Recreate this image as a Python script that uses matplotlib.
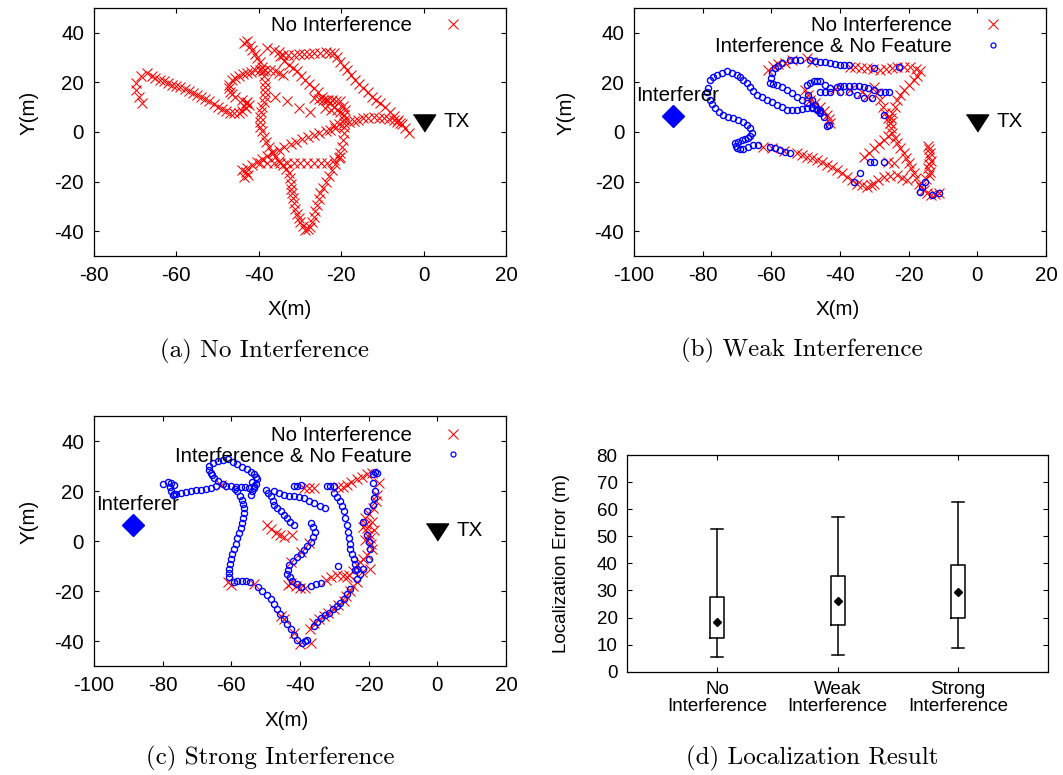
import numpy as np
import matplotlib
matplotlib.use('Agg')
from matplotlib import pyplot as plt
from matplotlib.lines import Line2D

plt.rcParams['font.family'] = ['Liberation Sans', 'DejaVu Sans']
plt.rcParams['axes.unicode_minus'] = False

# ---- data ----
# (a) no interference: estimated positions (x, y) in metres
a_no_intf = [
    (-68.3, 11.6), (-69.1, 14.3), (-69.9, 17.0), (-69.9, 19.7), (-68.7, 22.4), (-67.1, 23.7), (-66.0, 22.6),
    (-65.1, 21.7), (-64.0, 21.0), (-63.1, 20.4), (-62.0, 19.6), (-61.0, 19.0), (-60.0, 18.6), (-59.0, 18.1),
    (-58.0, 17.4), (-57.0, 16.7), (-56.0, 15.9), (-55.0, 15.0), (-54.0, 14.2), (-53.0, 13.3), (-52.0, 12.3),
    (-50.9, 11.3), (-49.9, 10.2), (-48.9, 9.2), (-47.9, 8.4), (-46.9, 7.8), (-45.9, 7.6), (-44.9, 7.8),
    (-44.0, 8.6), (-43.2, 9.6), (-42.4, 10.9), (-43.0, 11.5), (-43.6, 10.6), (-42.8, 12.0),
    (-44.1, 12.9), (-45.7, 14.3), (-46.4, 15.3), (-47.0, 16.3), (-47.3, 17.7), (-47.3, 19.0), (-46.5, 21.0),
    (-45.7, 21.8), (-44.9, 22.6), (-43.8, 23.2), (-42.8, 23.7), (-41.8, 24.3), (-40.8, 24.8), (-39.6, 25.0),
    (-38.4, 25.1), (-37.2, 24.8), (-36.0, 24.4), (-35.0, 23.7), (-34.0, 23.0),
    (-43.7, 35.8), (-42.8, 36.5), (-42.2, 34.8), (-41.6, 33.2), (-41.0, 31.5), (-40.4, 29.8), (-39.8, 28.1),
    (-39.2, 26.4), (-39.0, 24.4), (-38.8, 22.4), (-38.6, 20.3), (-38.4, 18.3), (-38.4, 16.3), (-38.4, 14.3),
    (-38.8, 12.2), (-39.2, 10.2), (-39.4, 8.2), (-39.6, 6.2), (-39.6, 4.2), (-39.6, 2.2), (-39.2, 0.2),
    (-38.8, -1.9), (-38.2, -3.9), (-37.6, -5.9), (-36.8, -8.0), (-36.0, -10.0), (-35.0, -11.7), (-34.0, -13.3),
    (-33.3, -15.0), (-32.7, -16.7), (-32.5, -18.7), (-32.3, -20.8), (-32.1, -22.8), (-31.9, -24.8),
    (-31.7, -26.8), (-31.5, -28.8), (-31.1, -30.9), (-30.7, -32.9), (-30.3, -34.6), (-29.9, -36.3),
    (-29.3, -38.0), (-28.7, -39.6), (-28.1, -39.0), (-27.5, -38.3), (-27.1, -36.2), (-26.7, -34.2),
    (-26.3, -31.8), (-25.9, -29.5), (-25.5, -27.1), (-25.1, -24.8), (-24.5, -22.4), (-23.8, -20.1),
    (-23.0, -17.7), (-22.2, -15.4), (-21.4, -13.0), (-20.6, -10.6), (-20.2, -8.3), (-19.8, -5.9),
    (-19.6, -3.2), (-19.4, -0.5), (-19.4, 2.2), (-19.4, 4.9), (-19.2, 6.9), (-19.0, 8.9), (-19.6, 10.6),
    (-20.2, 12.3), (-21.2, 12.6), (-22.2, 12.9), (-23.3, 12.9), (-24.3, 12.9), (-25.5, 13.2), (-26.7, 13.6),
    (-38.0, 33.8), (-36.4, 33.2), (-35.2, 32.2), (-34.0, 31.1), (-32.8, 31.1), (-31.5, 31.1), (-30.3, 31.3),
    (-29.1, 31.5), (-27.9, 31.6), (-26.7, 31.8), (-25.2, 32.0), (-23.8, 32.1), (-22.8, 32.0), (-21.8, 31.8),
    (-21.0, 30.1), (-20.2, 28.4), (-19.4, 26.7), (-18.6, 25.1), (-17.6, 23.0), (-16.6, 21.0), (-15.6, 19.3),
    (-14.6, 17.7), (-13.6, 16.0), (-12.5, 14.3), (-11.5, 13.0), (-10.5, 11.6), (-9.3, 9.9), (-8.1, 8.2),
    (-7.1, 6.5), (-6.1, 4.9), (-5.2, 3.2), (-4.4, 1.5), (-3.6, -0.5),
    (-34.8, 30.5), (-33.8, 28.8), (-32.7, 27.1), (-31.7, 25.7), (-30.7, 24.4), (-29.7, 22.7), (-28.7, 21.0),
    (-27.7, 19.3), (-26.7, 17.7), (-25.7, 16.0), (-24.7, 14.3), (-23.6, 13.0), (-22.6, 11.6), (-21.8, 10.2),
    (-21.0, 8.9), (-20.2, 7.9), (-19.4, 6.9),
    (-21.8, 2.8), (-20.6, 3.2), (-19.4, 3.5), (-18.2, 4.0), (-17.0, 4.6), (-15.8, 5.0), (-14.6, 5.5),
    (-13.4, 5.7), (-12.1, 5.9), (-10.9, 5.7), (-9.7, 5.5), (-8.5, 5.2), (-7.3, 4.9), (-6.5, 4.2), (-5.7, 3.5),
    (-43.2, -16.0), (-43.7, -18.1), (-42.5, -17.5), (-44.0, -15.5), (-42.8, -14.7), (-41.6, -13.3),
    (-40.4, -12.0), (-39.2, -10.8), (-38.0, -9.7), (-36.6, -8.5), (-35.2, -7.3), (-33.8, -6.1), (-32.3, -4.9),
    (-30.9, -3.9), (-29.5, -3.0), (-28.1, -2.1), (-26.7, -1.2), (-25.3, -0.3), (-23.8, 0.5), (-22.6, 1.0),
    (-21.4, 1.5),
    (-39.6, -12.7), (-38.0, -12.7), (-36.4, -12.7), (-34.8, -12.7), (-33.1, -12.7), (-31.5, -12.7),
    (-29.9, -12.7), (-28.3, -12.7), (-26.7, -12.7), (-25.0, -12.6), (-23.4, -12.4), (-21.8, -11.2), (-20.2, -10.0),
    (-36.0, 14.3), (-33.1, 12.3), (-30.3, 9.6), (-27.5, 8.2), (-24.0, 9.5), (-22.5, 9.0),
]

# (b) weak interference
b_no_intf = [
    (-60.9, 25.1), (-59.5, 26.5), (-58.0, 27.5), (-56.0, 27.8), (-54.0, 29.1), (-49.7, 29.8), (-48.2, 28.4),
    (-37.0, 26.4), (-35.5, 26.2), (-34.0, 26.0), (-32.1, 25.7), (-30.5, 25.4), (-28.2, 25.1), (-26.5, 25.5),
    (-24.8, 26.0), (-23.4, 26.4), (-21.5, 26.4), (-19.5, 26.4), (-18.0, 25.5), (-16.6, 24.4), (-17.5, 22.7),
    (-18.5, 21.0), (-20.0, 19.0), (-21.4, 17.0), (-22.4, 15.0), (-23.4, 12.9), (-24.1, 10.2), (-24.8, 7.5),
    (-25.1, 5.5), (-25.3, 3.5), (-25.0, 1.5), (-24.8, -0.5), (-24.1, -2.5), (-23.4, -4.6), (-22.4, -6.6),
    (-21.4, -8.6), (-20.7, -10.6), (-20.0, -12.7), (-19.2, -14.7), (-18.5, -16.7), (-17.8, -18.7),
    (-17.0, -20.8), (-16.3, -22.1), (-15.6, -23.5), (-14.6, -24.5), (-13.6, -25.5), (-12.4, -25.2), (-11.2, -24.8),
    (-30.2, 18.3), (-29.2, 15.6), (-28.2, 12.9), (-27.5, 10.2), (-26.8, 7.5), (-26.0, 5.5), (-25.5, 3.5),
    (-50.1, 17.0), (-49.4, 15.0), (-48.6, 12.9), (-47.2, 11.5), (-45.8, 10.2), (-44.8, 8.5), (-43.8, 6.9),
    (-43.3, 5.2), (-42.8, 3.5), (-41.5, 17.5), (-37.0, 17.0), (-33.5, 16.0), (-32.0, 14.5),
    (-62.3, -5.9), (-59.9, -6.6), (-56.3, -7.6), (-52.6, -8.6), (-51.1, -9.3), (-49.7, -10.0), (-48.2, -10.6),
    (-46.7, -11.3), (-45.2, -12.3), (-43.8, -13.3), (-42.3, -14.3), (-40.9, -15.4), (-39.5, -16.7),
    (-38.0, -18.1), (-36.5, -19.4), (-35.1, -20.8), (-33.6, -21.5), (-32.1, -22.1), (-31.1, -21.5),
    (-30.2, -20.8), (-28.8, -19.4), (-27.3, -18.1), (-25.4, -17.6), (-23.4, -17.4), (-21.9, -18.4), (-20.4, -19.4),
    (-33.1, -10.0), (-31.5, -8.4), (-30.0, -6.5), (-28.5, -4.8), (-27.3, -3.2), (-26.0, -1.8), (-24.3, -12.7),
    (-26.0, -12.3),
    (-14.5, -5.5), (-14.0, -7.0), (-13.8, -8.5), (-14.2, -10.0), (-13.6, -11.5), (-14.0, -13.0), (-14.4, -14.5),
    (-13.8, -16.0), (-14.2, -17.5), (-15.0, -19.0),
]
b_intf_nofeat = [
    (-78.4, 17.7), (-78.6, 16.0), (-77.9, 12.9), (-77.2, 11.2), (-76.4, 9.6), (-75.2, 8.2), (-74.0, 6.9),
    (-72.5, 6.2), (-71.1, 5.5), (-69.6, 4.9), (-68.2, 4.2), (-67.2, 2.8), (-66.2, 1.5), (-65.7, -0.5),
    (-66.2, -1.6), (-66.7, -2.6), (-67.7, -2.9), (-68.6, -3.2), (-69.6, -3.9), (-70.6, -4.6), (-70.4, -5.6),
    (-70.1, -6.6), (-69.2, -6.8), (-68.2, -7.0), (-66.7, -6.2), (-65.2, -5.3), (-64.0, -5.3), (-60.4, -5.9),
    (-58.9, -6.6), (-57.4, -7.3), (-55.9, -8.0), (-54.5, -8.6),
    (-77.9, 21.0), (-76.9, 22.0), (-75.9, 23.0), (-74.4, 23.7), (-73.0, 24.4), (-71.5, 23.7), (-70.1, 23.0),
    (-69.1, 22.0), (-68.2, 21.0), (-67.2, 19.7), (-66.2, 18.3), (-65.2, 16.7), (-64.3, 15.0), (-62.8, 14.0),
    (-61.3, 12.9), (-59.9, 11.9), (-58.4, 10.9), (-57.0, 9.9), (-55.5, 8.9), (-54.0, 8.9), (-52.6, 8.9),
    (-51.1, 9.2), (-49.7, 9.6), (-48.2, 9.6), (-46.7, 9.2), (-45.8, 8.9), (-44.8, 6.2), (-43.3, 2.8),
    (-60.4, 19.7), (-59.4, 19.4), (-58.4, 19.0), (-57.0, 18.0), (-55.5, 17.0), (-54.0, 15.7), (-52.6, 14.3),
    (-51.1, 13.0), (-49.7, 11.6), (-48.2, 10.2), (-46.7, 8.9), (-45.8, 8.0),
    (-60.2, 21.7), (-59.9, 23.7), (-58.9, 25.7), (-58.0, 26.8), (-57.0, 27.8), (-54.5, 29.1), (-53.0, 29.1),
    (-51.6, 29.1), (-48.7, 29.1), (-47.2, 28.8), (-45.8, 28.4), (-44.3, 28.1), (-42.8, 27.8), (-41.4, 27.4),
    (-39.9, 27.1), (-38.7, 27.1), (-37.5, 27.1),
    (-49.7, 19.0), (-48.7, 19.9), (-47.7, 20.4), (-46.7, 20.4), (-45.8, 20.4), (-44.3, 19.0), (-42.8, 17.7),
    (-40.9, 18.3), (-39.9, 18.5), (-38.9, 18.6), (-37.5, 18.6), (-36.0, 18.6), (-34.5, 18.4), (-33.1, 18.1),
    (-31.7, 17.6), (-30.2, 17.0), (-45.8, 16.3), (-44.3, 16.3), (-42.8, 16.3), (-39.9, 16.3), (-37.5, 16.3),
    (-28.2, 16.3), (-27.0, 16.3), (-25.8, 16.3), (-35.0, 15.0), (-33.1, 13.6), (-30.7, 13.6),
    (-27.3, 6.9), (-22.9, 26.4), (-30.2, 25.7), (-49.2, 15.0), (-48.2, 12.9), (-47.2, 10.9), (-45.8, 7.5),
    (-43.8, 2.4), (-31.2, -12.0), (-30.2, -12.0), (-27.3, -12.0), (-16.6, -24.1), (-16.1, -22.1),
    (-15.1, -20.1), (-13.1, -25.5), (-11.2, -24.5), (-36.0, -20.1), (-34.1, -16.7),
]

# (c) strong interference
c_no_intf = [
    (-63.1, 22.4), (-61.1, -16.4), (-60.0, -17.5), (-53.4, -17.1), (-44.7, -31.3), (-45.6, -30.0),
    (-41.8, -36.7), (-36.9, -40.7), (-40.0, -41.0), (-49.5, 6.5), (-48.5, 5.0), (-47.1, 3.1), (-45.8, 2.4),
    (-44.7, 1.8), (-42.3, 2.4), (-42.7, -8.4), (-39.8, -4.3), (-37.4, -0.9), (-41.3, -18.0), (-40.0, -18.8),
    (-38.5, -18.8), (-38.9, 21.3), (-37.5, 21.3), (-36.0, 21.3), (-29.0, 21.5), (-27.5, 21.8), (-26.3, 22.6),
    (-25.0, 23.5), (-23.4, 24.7), (-22.0, 25.7), (-20.5, 26.7), (-19.1, 27.4), (-17.1, 23.3), (-17.6, 18.6),
    (-18.0, 16.0), (-18.6, 13.2), (-20.0, 11.0), (-21.0, 9.2), (-20.8, 7.0), (-20.5, 5.1), (-20.0, 3.0),
    (-19.5, 1.1), (-19.3, -1.0), (-19.1, -3.0), (-20.5, -5.7), (-21.5, -7.0), (-22.4, -8.4), (-23.5, -9.5),
    (-19.5, -11.1), (-24.5, -12.0), (-25.8, -13.5), (-26.3, -14.4), (-27.5, -13.8), (-29.2, -13.7),
    (-31.0, -14.5), (-32.5, -15.5), (-22.0, -12.5), (-23.4, -16.4), (-24.5, -18.0), (-25.5, -20.0),
    (-26.5, -22.0), (-27.3, -23.9), (-28.8, -25.5), (-30.2, -27.2), (-31.7, -28.6), (-33.1, -29.9),
    (-34.5, -31.2), (-36.0, -32.6), (-37.0, -35.0), (-42.5, -16.8), (-43.5, -17.5),
    (-21.5, 5.5), (-19.0, 7.5), (-21.0, 0.5), (-18.5, 4.5),
]
c_intf_nofeat = [
    (-80.0, 22.9), (-78.5, 23.7), (-77.5, 23.3), (-76.6, 22.6), (-77.8, 21.5), (-77.5, 19.9), (-76.8, 19.0),
    (-77.1, 18.6), (-76.0, 19.0), (-74.7, 19.3), (-73.2, 19.7), (-71.8, 20.2), (-70.3, 20.4), (-68.9, 20.6),
    (-67.5, 21.0), (-66.0, 21.3), (-64.5, 21.9), (-61.6, 22.2), (-60.2, 22.0), (-58.7, 21.8),
    (-57.3, 21.6), (-56.0, 21.5), (-54.8, 21.3),
    (-66.4, 30.1), (-65.2, 31.2), (-64.0, 32.1), (-62.5, 32.5), (-61.1, 32.7), (-59.6, 31.7), (-58.2, 30.7),
    (-56.8, 29.7), (-55.3, 28.7), (-54.3, 27.7), (-53.4, 26.7), (-52.9, 25.7), (-52.4, 24.7), (-52.9, 23.0),
    (-53.4, 21.3), (-53.9, 20.0), (-54.4, 18.6), (-53.5, 22.0), (-54.0, 23.5),
    (-66.4, 28.6), (-66.0, 27.4), (-65.5, 26.3), (-65.0, 25.3), (-64.0, 24.0), (-62.5, 23.0),
    (-59.0, 21.0), (-58.2, 19.9), (-57.5, 18.2), (-56.8, 16.6), (-56.5, 14.9), (-56.3, 13.2), (-56.4, 11.2),
    (-56.5, 9.2), (-56.9, 7.1), (-57.3, 5.1), (-57.8, 3.1), (-58.2, 1.1), (-58.7, -1.0), (-59.2, -3.0),
    (-59.7, -5.0), (-60.2, -7.0), (-60.5, -9.0), (-60.7, -11.1), (-60.7, -12.8), (-60.7, -14.4),
    (-59.2, -16.3), (-58.2, -15.8), (-57.0, -15.8), (-55.8, -15.8), (-54.6, -16.4), (-52.2, -18.4),
    (-51.0, -19.8), (-49.7, -21.5), (-48.5, -23.2), (-47.6, -25.2), (-46.7, -27.2), (-45.7, -29.3),
    (-44.7, -31.3), (-43.7, -33.3), (-42.7, -35.3), (-41.8, -37.4), (-40.8, -39.4), (-39.4, -40.7),
    (-38.6, -40.0), (-37.9, -39.4), (-36.0, -34.0), (-35.0, -32.3), (-34.0, -30.6), (-32.8, -29.6),
    (-31.6, -28.6), (-30.4, -27.2), (-29.2, -25.9), (-28.2, -24.6), (-27.3, -23.2), (-26.3, -21.1),
    (-25.3, -19.1), (-23.4, -15.1), (-22.4, -13.1), (-21.5, -11.1), (-20.0, -7.0), (-19.5, -3.0),
    (-20.0, -0.3), (-20.5, 2.4), (-21.5, 7.8), (-20.5, 11.9), (-18.6, 14.6), (-18.4, 17.2), (-18.1, 19.9),
    (-18.6, 23.3), (-18.6, 26.7), (-17.6, 27.4), (-18.2, 27.5),
    (-50.0, 20.6), (-49.2, 19.3), (-48.5, 17.9), (-48.0, 16.2), (-47.6, 14.6), (-46.6, 13.2), (-45.6, 11.9),
    (-44.6, 10.5), (-43.7, 9.2), (-42.8, 7.8), (-41.8, 6.5),
    (-47.6, 19.9), (-46.2, 19.2), (-44.7, 18.6), (-43.2, 18.2), (-41.8, 17.9), (-40.3, 17.6), (-38.9, 17.3),
    (-37.5, 16.2), (-36.0, 15.2), (-34.3, 14.2), (-32.6, 13.2),
    (-36.9, 7.1), (-36.2, 5.5), (-35.5, 3.8), (-36.2, 1.8), (-36.9, -0.3), (-37.9, -2.0), (-38.9, -3.6),
    (-39.8, -5.0), (-40.8, -6.3), (-42.0, -8.0), (-43.2, -9.7), (-43.5, -11.4), (-43.7, -13.1), (-43.0, -14.5),
    (-42.3, -15.8), (-41.0, -17.2), (-39.8, -18.5), (-36.9, -17.8), (-35.4, -17.2), (-34.0, -16.7),
    (-41.8, 22.0), (-40.8, 22.2), (-39.8, 22.4), (-32.1, 22.0), (-31.2, 22.0), (-30.2, 22.0), (-30.2, 19.3),
    (-29.2, 17.6), (-28.2, 15.9), (-27.7, 13.9), (-27.3, 11.9), (-26.8, 9.2), (-26.3, 6.5), (-26.0, 3.8),
    (-25.8, 1.1), (-25.5, -1.0), (-25.3, -3.0), (-24.8, -5.0), (-24.4, -7.0), (-23.9, -9.0), (-23.4, -11.1),
    (-29.0, -10.0), (-24.0, -11.5),
]

tx_pos = (0.0, 3.5)
interferer_pos = (-88.5, 6.5)

# (d) localization error box plot
err_labels = ['No\nInterference', 'Weak\nInterference', 'Strong\nInterference']
err_whislo = [5.5, 6.3, 8.6]
err_q1 = [12.3, 17.3, 20.0]
err_mid = [18.3, 26.1, 29.3]
err_q3 = [27.6, 35.2, 39.5]
err_whishi = [52.6, 57.2, 62.6]

captions = ['(a) No Interference', '(b) Weak Interference',
            '(c) Strong Interference', '(d) Localization Result']

FS = 14.8
RED = '#ff0000'
BLUE = '#0000ff'
TRI = [(-1.0, 0.77), (1.0, 0.77), (0.0, -0.77)]


def style_axes(ax, fs):
    ax.tick_params(direction='in', top=True, right=True, length=3.3, width=0.8,
                   labelsize=fs, pad=7)
    for s in ax.spines.values():
        s.set_linewidth(0.9)


def map_axes(ax, xlim, xticks):
    ax.set_xlim(*xlim)
    ax.set_ylim(-50, 50)
    ax.set_xticks(xticks)
    ax.set_yticks([-40, -20, 0, 20, 40])
    style_axes(ax, FS)
    ax.set_xlabel('X(m)', fontsize=FS)
    ax.set_ylabel('Y(m)', fontsize=FS)
    ax.yaxis.set_label_coords(-0.135, 0.577)


def plot_pts(ax, pts, kind):
    p = np.array(pts)
    if kind == 'x':
        ax.plot(p[:, 0], p[:, 1], ls='none', marker='x', color=RED, ms=7.4, mew=0.75)
    else:
        ax.plot(p[:, 0], p[:, 1], ls='none', marker='o', mfc='none', mec=BLUE, ms=4.4, mew=1.0)


def add_tx(ax):
    ax.plot(*tx_pos, ls='none', marker=TRI, color='black', ms=16)
    ax.annotate('TX', tx_pos, xytext=(14, 1), textcoords='offset points',
                va='center', ha='left', fontsize=FS)


def add_interferer(ax):
    ax.plot(*interferer_pos, ls='none', marker='D', color=BLUE, ms=11.7)
    ax.annotate('Interferer', interferer_pos, xytext=(3, 14.5), textcoords='offset points',
                va='center', ha='center', fontsize=FS)


def add_legend(ax, n, y):
    h = [Line2D([], [], ls='none', marker='x', color=RED, ms=7.2, mew=0.75),
         Line2D([], [], ls='none', marker='o', mfc='none', mec=BLUE, ms=3.6, mew=0.9)]
    lab = ['No Interference', 'Interference & No Feature']
    ax.legend(h[:n], lab[:n], loc='upper right', bbox_to_anchor=(0.921, y), frameon=False,
              markerfirst=False, handlelength=2.0, handletextpad=1.0, borderpad=0,
              borderaxespad=0, labelspacing=0.08, fontsize=FS)


fig = plt.figure(figsize=(10.63, 7.75), dpi=100)
ax_a = fig.add_axes([0.0884, 0.6697, 0.3876, 0.32])
ax_b = fig.add_axes([0.5964, 0.6697, 0.3876, 0.32])
ax_c = fig.add_axes([0.0884, 0.1406, 0.3876, 0.3226])
ax_d = fig.add_axes([0.5901, 0.1333, 0.3958, 0.2796])

# (a)
plot_pts(ax_a, a_no_intf, 'x')
add_tx(ax_a)
map_axes(ax_a, (-80, 20), [-80, -60, -40, -20, 0, 20])
ax_a.xaxis.set_label_coords(0.476, -0.177)
add_legend(ax_a, 1, 0.967)

# (b)
plot_pts(ax_b, b_no_intf, 'x')
plot_pts(ax_b, b_intf_nofeat, 'o')
add_tx(ax_b)
add_interferer(ax_b)
map_axes(ax_b, (-100, 20), [-100, -80, -60, -40, -20, 0, 20])
ax_b.xaxis.set_label_coords(0.495, -0.177)
ax_b.yaxis.set_label_coords(-0.141, 0.577)
add_legend(ax_b, 2, 0.967)

# (c)
plot_pts(ax_c, c_no_intf, 'x')
plot_pts(ax_c, c_intf_nofeat, 'o')
add_tx(ax_c)
add_interferer(ax_c)
map_axes(ax_c, (-100, 20), [-100, -80, -60, -40, -20, 0, 20])
ax_c.xaxis.set_label_coords(0.468, -0.18)
add_legend(ax_c, 2, 0.96)

# (d)
stats = [dict(whislo=lo, q1=q1, med=m, mean=m, q3=q3, whishi=hi)
         for lo, q1, m, q3, hi in zip(err_whislo, err_q1, err_mid, err_q3, err_whishi)]
ax_d.bxp(stats, positions=[1, 2, 3], widths=0.116, capwidths=0.1, showmeans=True, showfliers=False,
         boxprops=dict(color='black', lw=1.1), whiskerprops=dict(color='black', lw=1.1),
         capprops=dict(color='black', lw=1.1), medianprops=dict(lw=0),
         meanprops=dict(marker='D', mfc='black', mec='black', ms=4.2))
ax_d.set_xlim(0.25, 3.75)
ax_d.set_ylim(0, 80)
ax_d.set_yticks(range(0, 81, 10))
ax_d.set_xticks([1, 2, 3])
ax_d.set_xticklabels(err_labels, linespacing=0.95)
style_axes(ax_d, 13.5)
ax_d.set_ylabel('Localization Error (m)', fontsize=13.5)
ax_d.yaxis.set_label_coords(-0.136, 0.5)

# captions
cap_pos = [(265, 351), (802, 350), (270, 758), (812, 758)]
for txt, (px, py) in zip(captions, cap_pos):
    fig.text(px / 1063, 1 - py / 775, txt, family='cmr10', fontsize=18, ha='center', va='center')

fig.savefig('out.png', dpi=100)
